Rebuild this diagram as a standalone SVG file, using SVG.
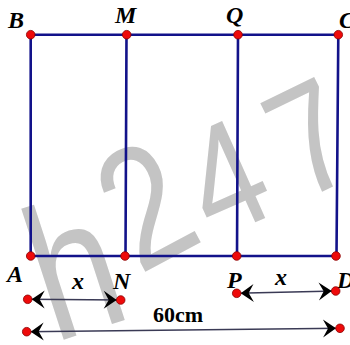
<svg xmlns="http://www.w3.org/2000/svg" width="350" height="345" viewBox="0 0 350 345">
  <style>
    .wm { font-family: "Liberation Sans", Arial, sans-serif; fill: #c4c4c4; text-anchor: middle; }
    .edge { stroke: #12128a; stroke-width: 2.6; fill: none; stroke-linecap: round; }
    .dim { stroke: #3a3a55; stroke-width: 1.5; fill: none; }
    .pt { fill: #ee0a0a; stroke: #8a0000; stroke-width: 0.8; }
    .lbl { font-family: "Liberation Serif", "Times New Roman", serif; font-size: 24px; font-weight: bold; font-style: italic; fill: #000; }
    .len { font-family: "Liberation Serif", "Times New Roman", serif; font-size: 22px; font-weight: bold; fill: #000; text-anchor: middle; }
  </style>
  <defs>
    <marker id="ah" viewBox="-14 -10 16 20" markerWidth="16" markerHeight="20" refX="4" refY="0" orient="auto-start-reverse" markerUnits="userSpaceOnUse">
      <path d="M0,0 L-13,-9 L-8,0 L-13,9 Z" fill="#000"/>
    </marker>
  </defs>
  <rect width="350" height="345" fill="#fff"/>
  <g id="watermark">
    <text class="wm" font-size="190" transform="translate(-30,352) rotate(-18) scale(0.8,1)">c</text>
    <text class="wm" font-size="190" transform="translate(94,330) rotate(-18) scale(0.8,1)">h</text>
    <text class="wm" font-size="172" transform="translate(173,257) rotate(-28) scale(0.8,1)">2</text>
    <text class="wm" font-size="154" transform="translate(247,226) rotate(-24) scale(0.85,1)">4</text>
    <text class="wm" font-size="155" transform="translate(334,186) rotate(-26) scale(0.85,1)">7</text>
  </g>
  <g id="connectors">
    <line class="edge" x1="30.7" y1="34.7" x2="338.3" y2="34.7"/>
    <line class="edge" x1="30.7" y1="256" x2="336" y2="256"/>
    <line class="edge" x1="30.7" y1="34.7" x2="30.7" y2="256"/>
    <line class="edge" x1="126.5" y1="34.7" x2="125.5" y2="256"/>
    <line class="edge" x1="238" y1="34.7" x2="237" y2="256"/>
    <line class="edge" x1="338.3" y1="34.7" x2="336.5" y2="256"/>
    <line class="dim" x1="27.7" y1="299.3" x2="120.7" y2="300" marker-start="url(#ah)" marker-end="url(#ah)"/>
    <line class="dim" x1="236.7" y1="293.3" x2="335.7" y2="291" marker-start="url(#ah)" marker-end="url(#ah)"/>
    <line class="dim" x1="26.7" y1="331.7" x2="340" y2="328.3" marker-start="url(#ah)" marker-end="url(#ah)"/>
  </g>
  <g id="B"><circle class="pt" cx="30.7" cy="34.7" r="4.3"/><text class="lbl" x="8" y="28">B</text></g>
  <g id="M"><circle class="pt" cx="126.7" cy="34.7" r="4.3"/><text class="lbl" x="115" y="23">M</text></g>
  <g id="Q"><circle class="pt" cx="238" cy="34.7" r="4.3"/><text class="lbl" x="226" y="23">Q</text></g>
  <g id="C"><circle class="pt" cx="338.3" cy="34.7" r="4.3"/><text class="lbl" x="339" y="28">C</text></g>
  <g id="A"><circle class="pt" cx="30.7" cy="256" r="4.3"/><text class="lbl" x="7" y="282">A</text></g>
  <g id="N"><circle class="pt" cx="125" cy="256" r="4.3"/><text class="lbl" x="113" y="289">N</text></g>
  <g id="P"><circle class="pt" cx="236.7" cy="256" r="4.3"/><text class="lbl" x="227" y="288">P</text></g>
  <g id="D"><circle class="pt" cx="336" cy="256" r="4.3"/><text class="lbl" x="337" y="288">D</text></g>
  <g id="dim-left">
    <circle class="pt" cx="27.7" cy="299.3" r="4.3"/><circle class="pt" cx="120.7" cy="300" r="4.3"/>
    <text class="lbl" x="72" y="289">x</text>
  </g>
  <g id="dim-right">
    <circle class="pt" cx="236.7" cy="293.3" r="4.3"/><circle class="pt" cx="335.7" cy="291" r="4.3"/>
    <text class="lbl" x="275" y="285">x</text>
  </g>
  <g id="dim-total">
    <circle class="pt" cx="26.7" cy="331.7" r="4.3"/><circle class="pt" cx="340" cy="328.3" r="4.3"/>
    <text class="len" x="178" y="322">60cm</text>
  </g>
</svg>
